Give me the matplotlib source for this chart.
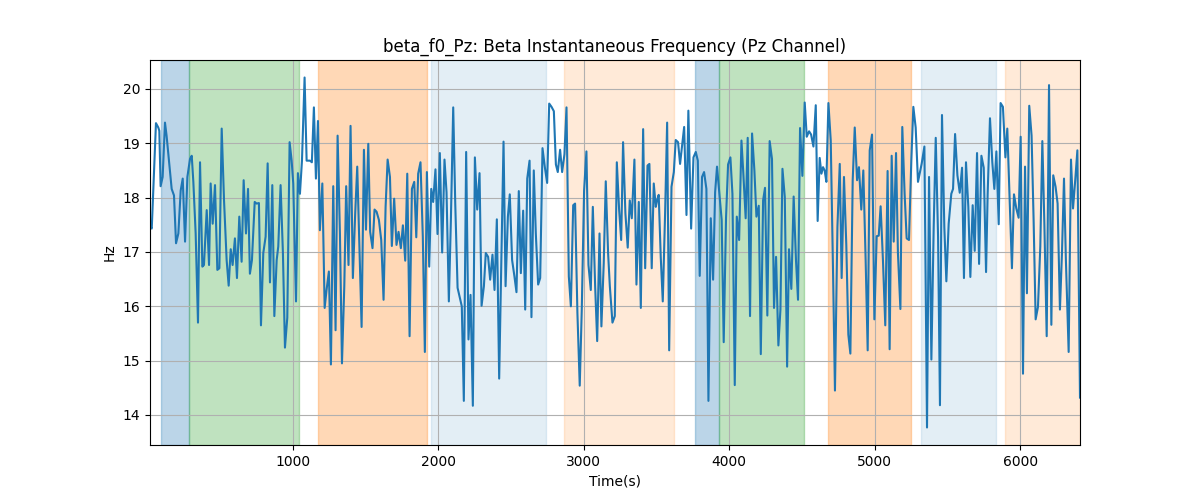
import matplotlib
matplotlib.use("Agg")
import matplotlib.pyplot as plt
import numpy as np

time_s = [
    17, 29, 58, 74, 81, 90, 104, 120, 131, 166, 182, 196, 212, 228, 242, 258, 274, 292, 304, 315,
    331, 347, 361, 377, 388, 407, 423, 434, 448, 464, 480, 494, 510, 526, 544, 558, 572, 585, 601, 615,
    631, 647, 661, 677, 691, 704, 718, 737, 750, 766, 780, 796, 812, 826, 842, 858, 872, 888, 899, 915,
    931, 945, 961, 977, 991, 1002, 1021, 1034, 1048, 1062, 1080, 1094, 1117,
    1130, 1144, 1158, 1172, 1185, 1202, 1218, 1231, 1247, 1261, 1277, 1293, 1307, 1323, 1337, 1353, 1366,
    1382, 1396, 1412, 1428, 1442, 1458, 1472, 1488, 1502, 1518, 1531, 1547, 1561, 1575, 1591, 1607, 1623,
    1637, 1651, 1667, 1680, 1696, 1712, 1726, 1742, 1756, 1772, 1786, 1802, 1818, 1834, 1848, 1861, 1877,
    1893, 1907, 1921, 1937, 1951, 1964, 1980, 1994, 2010, 2026, 2042, 2056, 2072, 2086, 2102, 2116, 2132, 2148,
    2161, 2175, 2191, 2207, 2221, 2237, 2251, 2267, 2283, 2297, 2313, 2326, 2342, 2356, 2372, 2386, 2402,
    2418, 2448, 2462, 2478, 2491, 2507, 2523, 2537, 2553, 2567, 2583, 2597, 2611, 2627, 2640, 2656, 2670,
    2686, 2700, 2716, 2732, 2748, 2762, 2778, 2794, 2808, 2821, 2837, 2851, 2867, 2881, 2897, 2911, 2927,
    2940, 2956, 2972, 2986, 3002, 3018, 3032, 3048, 3062, 3078, 3092, 3108, 3121, 3137, 3151, 3167, 3179,
    3197, 3213, 3227, 3243, 3257, 3270, 3286, 3302, 3316, 3330, 3348, 3362, 3378, 3392, 3408, 3422, 3438,
    3451, 3467, 3481, 3495, 3504, 3515, 3529, 3543, 3559, 3573, 3587, 3603, 3619, 3632, 3648, 3662, 3676,
    3690, 3706, 3719, 3738, 3754, 3770, 3784, 3797, 3813, 3827, 3843, 3857, 3873, 3889, 3903, 3916, 3932,
    3948, 3962, 3978, 3992, 4008, 4022, 4038, 4052, 4068, 4084, 4097, 4113, 4127, 4143, 4157, 4173, 4187, 4203,
    4217, 4233, 4246, 4262, 4278, 4294, 4308, 4322, 4338, 4352, 4366, 4382, 4398, 4411, 4427, 4443, 4459,
    4473, 4487, 4503, 4519, 4533, 4549, 4563, 4579, 4595, 4608, 4622, 4634, 4645, 4656, 4668, 4682, 4698,
    4714, 4727, 4744, 4760, 4773, 4789, 4805, 4819, 4833, 4849, 4863, 4879, 4892, 4908, 4922, 4938, 4952,
    4966, 4982, 4998, 5014, 5028, 5041, 5057, 5073, 5089, 5103, 5117, 5131, 5147, 5160, 5177, 5190, 5206,
    5220, 5236, 5252, 5266, 5282, 5298,
    5323, 5342, 5360, 5374, 5390, 5406, 5420, 5436, 5449, 5463, 5479, 5493, 5509, 5527, 5539, 5553, 5569,
    5585, 5601, 5614, 5628, 5644, 5658, 5674, 5688, 5704, 5718, 5734, 5750, 5766, 5777, 5793, 5809, 5823,
    5837, 5853, 5866, 5882, 5899, 5912, 5928, 5944, 5958, 5974, 5990, 6004, 6020, 6034, 6047, 6063, 6079,
    6093, 6107, 6123, 6139, 6153, 6167, 6183, 6199, 6215, 6228, 6244, 6258, 6274, 6288, 6302, 6315, 6334,
    6350, 6364, 6380, 6394, 6412,
]

beta_hz = [
    17.46, 17.43, 19.37, 19.29, 19.23, 18.21, 18.38, 19.38, 19.14, 18.16, 18.04, 17.16, 17.34, 18.13, 18.35, 17.19, 18.38, 18.71, 18.77, 18.29,
    17.34, 15.70, 18.65, 16.73, 16.76, 17.77, 16.76, 18.26, 17.52, 18.23, 16.67, 16.70, 19.27, 17.95, 16.85, 16.38, 17.05, 16.76, 17.25, 16.52,
    17.65, 16.82, 18.32, 17.34, 18.16, 16.60, 16.85, 17.92, 17.89, 17.90, 15.65, 16.98, 17.28, 18.63, 16.44, 18.23, 15.82, 16.85, 17.10, 18.23,
    16.98, 15.24, 15.79, 19.02, 18.68, 18.26, 16.09, 18.45, 18.07, 18.68, 20.21, 18.68, 18.68,
    18.65, 19.66, 18.35, 19.41, 17.40, 18.26, 15.97, 16.30, 16.64, 14.93, 18.21, 15.56, 19.14, 17.34, 14.95, 16.37, 18.21,
    16.76, 19.32, 16.52, 17.71, 18.57, 16.98, 15.62, 18.88, 17.41, 18.99, 17.37, 17.07, 17.78, 17.74, 17.59, 17.22, 16.12,
    17.83, 18.70, 18.38, 17.11, 17.98, 17.13, 17.37, 17.07, 17.49, 16.84, 18.44, 15.45, 18.16, 18.29, 17.27, 18.44, 18.65,
    17.28, 15.16, 18.47, 16.73, 18.16, 17.92, 18.52, 17.33, 18.82, 16.99, 18.70, 18.10, 16.09, 17.59, 19.66, 17.89, 16.34, 16.15,
    16.00, 14.26, 18.84, 15.39, 16.21, 14.17, 18.74, 17.78, 18.45, 16.01, 16.37, 16.98, 16.91, 16.49, 16.95, 16.30, 17.60,
    14.67, 19.03, 16.37, 17.65, 18.06, 16.85, 16.55, 16.26, 18.12, 16.61, 17.76, 15.94, 18.35, 18.68, 15.80, 18.50, 17.34,
    16.40, 16.52, 18.91, 18.56, 18.27, 19.73, 19.67, 19.59, 18.61, 18.47, 18.88, 18.47, 18.80, 19.66, 16.55, 16.00, 17.86,
    17.89, 15.88, 14.54, 15.94, 18.13, 18.85, 16.76, 16.30, 17.83, 16.37, 15.36, 17.34, 15.63, 16.79, 18.30, 16.98, 16.37,
    15.70, 15.82, 18.65, 17.77, 17.22, 19.02, 17.71, 17.08, 17.95, 17.62, 18.70, 16.40, 17.92, 15.97, 19.26, 16.70, 18.59,
    18.62, 16.70, 18.26, 17.83, 17.95, 18.05, 16.91, 16.09, 17.71, 19.38, 15.19, 18.20, 18.47, 19.06, 19.02, 18.62, 18.96,
    19.30, 17.68, 19.60, 17.43, 18.74, 18.84, 18.68, 16.56, 18.38, 18.47, 18.16, 14.26, 17.62, 16.49, 18.10, 18.57, 18.07,
    17.59, 15.34, 17.63, 18.61, 18.74, 18.07, 14.55, 17.65, 17.22, 19.05, 18.44, 17.62, 19.10, 15.82, 19.18, 18.50, 17.65, 17.85,
    15.12, 17.95, 18.18, 15.83, 19.04, 18.71, 15.97, 16.91, 15.28, 15.94, 18.53, 18.01, 14.89, 17.05, 16.32, 18.02, 16.85,
    16.12, 19.28, 18.40, 19.75, 19.12, 19.22, 19.16, 18.94, 19.70, 17.57, 18.73, 18.44, 18.56, 18.50, 18.29, 19.74, 19.05,
    16.61, 14.45, 17.46, 18.62, 16.52, 18.38, 17.13, 15.48, 15.13, 18.32, 19.29, 18.32, 18.56, 17.78, 18.50, 16.85, 15.19,
    18.87, 19.16, 15.76, 17.29, 17.30, 17.84, 16.85, 15.65, 18.49, 15.21, 18.77, 17.19, 18.82, 16.98, 15.95, 19.30, 18.07,
    17.25, 17.22, 18.68, 19.67, 19.29, 18.29,
    18.62, 18.94, 13.77, 18.38, 15.02, 17.46, 19.10, 17.28, 14.18, 19.52, 17.46, 16.46, 17.52, 18.07, 18.16, 19.17, 18.41,
    18.09, 18.55, 16.52, 18.65, 17.83, 16.54, 17.86, 17.02, 18.82, 16.78, 18.77, 18.55, 16.63, 18.07, 19.46, 18.65, 18.16,
    18.85, 17.51, 19.74, 19.67, 18.74, 19.27, 18.01, 16.70, 18.06, 17.80, 17.63, 19.12, 14.76, 18.57, 16.24, 19.69, 19.14,
    17.59, 15.76, 15.99, 17.10, 19.04, 17.52, 15.45, 20.07, 15.66, 18.41, 18.20, 17.89, 15.94, 16.98, 18.35, 16.85, 15.16,
    18.70, 17.80, 18.35, 18.87, 14.32,
]

span_starts = [93, 285, 1172, 1946, 2862, 3765, 3930, 4677, 5316, 5893]
span_ends = [285, 1043, 1921, 2739, 3619, 3930, 4517, 5252, 5832, 6412]
span_colors = ["tab:blue", "tab:green", "tab:orange", "tab:blue", "tab:orange",
               "tab:blue", "tab:green", "tab:orange", "tab:blue", "tab:orange"]
span_alphas = [0.3, 0.3, 0.3, 0.12, 0.16, 0.3, 0.3, 0.3, 0.12, 0.16]

fig, ax = plt.subplots(figsize=(12, 5), dpi=100)
for s, e, c, a in zip(span_starts, span_ends, span_colors, span_alphas):
    ax.axvspan(s, e, color=c, alpha=a)
ax.plot(time_s, beta_hz, color="tab:blue", linewidth=1.5)
ax.set_xlim(time_s[0], time_s[-1])
ax.set_title("beta_f0_Pz: Beta Instantaneous Frequency (Pz Channel)")
ax.set_xlabel("Time(s)")
ax.set_ylabel("Hz")
ax.grid(True)
fig.savefig("out.png", dpi=100)
